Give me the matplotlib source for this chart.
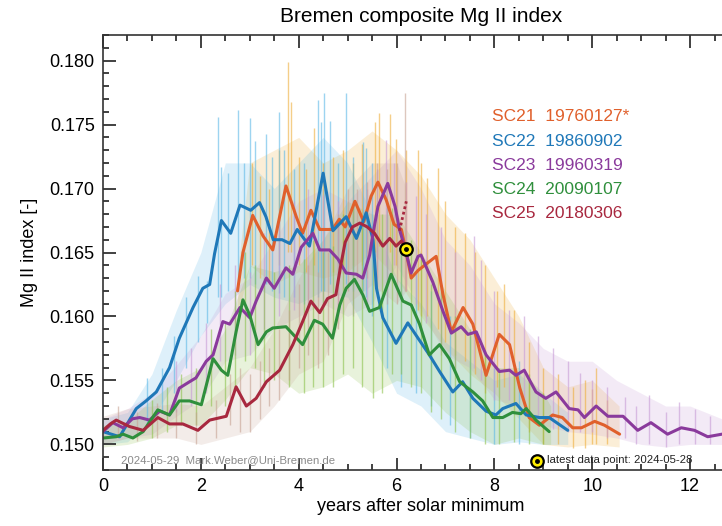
import numpy as np
import matplotlib.pyplot as plt
from matplotlib.ticker import MultipleLocator

plt.rcParams["font.family"] = ["Liberation Sans", "DejaVu Sans"]

# ---- smoothed index per solar cycle (years after minimum, Mg II index) ----
sc21_t = [2.75, 2.86, 3.06, 3.27, 3.47, 3.74, 3.95, 4.08, 4.25, 4.43, 4.69, 4.83, 4.95,
          5.15, 5.33, 5.48, 5.62, 5.79, 5.95, 6.1, 6.23, 6.3, 6.44, 6.64, 6.81, 6.95,
          7.12, 7.36, 7.56, 7.83, 8.1, 8.31, 8.52, 8.71, 8.92, 9.19, 9.39, 9.6, 9.78,
          10.05, 10.25, 10.56]
sc21_v = [0.1620, 0.1650, 0.1679, 0.1663, 0.1652, 0.1702, 0.1678, 0.1665, 0.1683, 0.1668,
          0.1668, 0.1676, 0.1670, 0.1690, 0.1674, 0.1694, 0.1705, 0.1691, 0.1672, 0.1668,
          0.1644, 0.1630, 0.1636, 0.1642, 0.1647, 0.1617, 0.1588, 0.1607, 0.1594, 0.1554,
          0.1586, 0.1578, 0.1544, 0.1521, 0.1515, 0.1523, 0.1521, 0.1513, 0.1513, 0.1518,
          0.1515, 0.1508]

sc22_t = [0.0, 0.34, 0.68, 0.88, 1.09, 1.36, 1.56, 1.84, 2.04, 2.18, 2.28, 2.42, 2.61,
          2.8, 3.02, 3.2, 3.33, 3.48, 3.66, 3.82, 3.97, 4.22, 4.5, 4.7, 4.97, 5.18, 5.38,
          5.52, 5.59, 5.72, 5.99, 6.23, 6.44, 6.67, 6.88, 7.15, 7.35, 7.56, 7.83, 8.03,
          8.17, 8.44, 8.65, 8.92, 9.12, 9.5]
sc22_v = [0.1510, 0.1506, 0.1528, 0.1534, 0.1541, 0.1560, 0.1583, 0.1607, 0.1622, 0.1625,
          0.1649, 0.1675, 0.1665, 0.1687, 0.1683, 0.1689, 0.1678, 0.1660, 0.1660, 0.1657,
          0.1668, 0.1655, 0.1712, 0.1667, 0.1678, 0.1661, 0.1681, 0.1660, 0.1622, 0.1599,
          0.1579, 0.1595, 0.1583, 0.1570, 0.1557, 0.1541, 0.1549, 0.1536, 0.1526, 0.1523,
          0.1528, 0.1532, 0.1523, 0.1521, 0.1521, 0.1511]

sc23_t = [0.0, 0.2, 0.41, 0.6, 0.75, 0.95, 1.16, 1.36, 1.56, 1.77, 1.9, 2.11, 2.25, 2.45,
          2.59, 2.8, 3.0, 3.13, 3.34, 3.5, 3.74, 3.88, 4.05, 4.29, 4.43, 4.63, 4.8, 4.97,
          5.18, 5.31, 5.45, 5.52, 5.62, 5.82, 5.97, 6.06, 6.16, 6.3, 6.44, 6.5, 6.74, 6.95,
          7.12, 7.32, 7.46, 7.63, 7.83, 8.1, 8.31, 8.44, 8.61, 8.85, 9.05, 9.26, 9.53,
          9.71, 9.84, 10.08, 10.32, 10.63, 10.93, 11.2, 11.54, 11.82, 12.09, 12.36, 12.65]
sc23_v = [0.1510, 0.1517, 0.1513, 0.1520, 0.1521, 0.1519, 0.1526, 0.1523, 0.1544, 0.1549,
          0.1552, 0.1565, 0.1570, 0.1596, 0.1594, 0.1607, 0.1599, 0.1612, 0.1630, 0.1622,
          0.1638, 0.1633, 0.1654, 0.1665, 0.1652, 0.1652, 0.1645, 0.1634, 0.1633, 0.1630,
          0.1648, 0.1665, 0.1686, 0.1704, 0.1686, 0.1668, 0.1655, 0.1634, 0.1647, 0.1648,
          0.1627, 0.1604, 0.1587, 0.1592, 0.1586, 0.1588, 0.1570, 0.1557, 0.1558, 0.1554,
          0.1558, 0.1541, 0.1536, 0.1541, 0.1528, 0.1527, 0.1521, 0.1530, 0.1522, 0.1522,
          0.1511, 0.1517, 0.1508, 0.1513, 0.1511, 0.1506, 0.1508]

sc24_t = [0.0, 0.27, 0.41, 0.61, 0.82, 1.12, 1.36, 1.56, 1.77, 2.01, 2.25, 2.42, 2.55,
          2.72, 2.86, 3.0, 3.17, 3.34, 3.47, 3.74, 4.08, 4.32, 4.49, 4.69, 4.84, 4.97,
          5.14, 5.31, 5.45, 5.65, 5.89, 6.13, 6.3, 6.47, 6.67, 6.88, 7.08, 7.29, 7.56,
          7.76, 7.97, 8.17, 8.37, 8.54, 8.65, 8.85, 9.12]
sc24_v = [0.1505, 0.1506, 0.1508, 0.1505, 0.1510, 0.1527, 0.1523, 0.1534, 0.1534, 0.1531,
          0.1567, 0.1558, 0.1554, 0.1588, 0.1613, 0.1601, 0.1578, 0.1588, 0.1591, 0.1592,
          0.1578, 0.1597, 0.1594, 0.1583, 0.1609, 0.1622, 0.1629, 0.1617, 0.1604, 0.1607,
          0.1633, 0.1612, 0.1609, 0.1594, 0.1570, 0.1578, 0.1567, 0.1549, 0.1541, 0.1534,
          0.1521, 0.1521, 0.1525, 0.1524, 0.1528, 0.1519, 0.1510]

sc25_t = [0.0, 0.15, 0.27, 0.54, 0.82, 1.12, 1.36, 1.63, 1.94, 2.18, 2.52, 2.72, 2.93,
          3.13, 3.34, 3.61, 3.88, 4.08, 4.25, 4.43, 4.59, 4.76, 4.86, 4.95, 5.1, 5.25,
          5.4, 5.55, 5.72, 5.86, 5.99, 6.1, 6.2]
sc25_v = [0.1511, 0.1516, 0.1519, 0.1514, 0.1511, 0.1521, 0.1516, 0.1516, 0.1511, 0.1519,
          0.1522, 0.1545, 0.1530, 0.1536, 0.1549, 0.1558, 0.1578, 0.1596, 0.1612, 0.1603,
          0.1614, 0.1617, 0.1640, 0.1658, 0.1670, 0.1673, 0.1670, 0.1665, 0.1655, 0.1661,
          0.1655, 0.1659, 0.1653]

# partial smoothing at the end of the current cycle
sc25_tail_t = [6.06, 6.2]
sc25_tail_v = [0.1667, 0.1690]
latest_t, latest_v = 6.2, 0.1653

# ---- daily data: spread of values (envelope) ----
sc21_env_t = [2.75, 3.0, 3.5, 4.0, 4.5, 5.0, 5.5, 6.0, 6.5, 7.0, 7.5, 8.0, 8.5, 9.0, 9.5, 10.0, 10.55]
sc21_env_lo = [0.1600, 0.1640, 0.1625, 0.1635, 0.1630, 0.1635, 0.1650, 0.1630, 0.1600, 0.1575,
               0.1555, 0.1540, 0.1520, 0.1500, 0.1498, 0.1500, 0.1498]
sc21_env_hi = [0.1635, 0.1720, 0.1730, 0.1740, 0.1720, 0.1730, 0.1745, 0.1730, 0.1710, 0.1680,
               0.1660, 0.1630, 0.1600, 0.1560, 0.1545, 0.1550, 0.1530]

sc22_env_t = [0, 0.5, 1, 1.5, 2, 2.5, 3, 3.5, 4, 4.5, 5, 5.5, 6, 6.5, 7, 7.5, 8, 8.5, 9, 9.5]
sc22_env_lo = [0.1500, 0.1502, 0.1520, 0.1550, 0.1585, 0.1610, 0.1625, 0.1615, 0.1610, 0.1620,
               0.1615, 0.1580, 0.1540, 0.1530, 0.1510, 0.1505, 0.1500, 0.1502, 0.1500, 0.1500]
sc22_env_hi = [0.1520, 0.1525, 0.1555, 0.1605, 0.1650, 0.1720, 0.1720, 0.1700, 0.1720, 0.1740,
               0.1720, 0.1680, 0.1630, 0.1610, 0.1580, 0.1565, 0.1550, 0.1555, 0.1540, 0.1525]

sc23_env_t = [0, 0.5, 1, 1.5, 2, 2.5, 3, 3.5, 4, 4.5, 5, 5.5, 6, 6.5, 7, 7.5, 8, 8.5, 9,
              9.5, 10, 10.5, 11, 11.5, 12, 12.65]
sc23_env_lo = [0.1500, 0.1505, 0.1508, 0.1522, 0.1535, 0.1565, 0.1570, 0.1590, 0.1600, 0.1610,
               0.1600, 0.1610, 0.1640, 0.1605, 0.1570, 0.1560, 0.1535, 0.1530, 0.1515, 0.1510,
               0.1508, 0.1505, 0.1500, 0.1498, 0.1500, 0.1500]
sc23_env_hi = [0.1520, 0.1528, 0.1540, 0.1562, 0.1585, 0.1618, 0.1630, 0.1660, 0.1690, 0.1700,
               0.1690, 0.1710, 0.1730, 0.1700, 0.1660, 0.1640, 0.1610, 0.1595, 0.1575, 0.1565,
               0.1565, 0.1550, 0.1540, 0.1530, 0.1530, 0.1520]

sc24_env_t = [0, 0.5, 1, 1.5, 2, 2.5, 3, 3.5, 4, 4.5, 5, 5.5, 6, 6.5, 7, 7.5, 8, 8.5, 9, 9.15]
sc24_env_lo = [0.1498, 0.1500, 0.1505, 0.1515, 0.1515, 0.1535, 0.1560, 0.1555, 0.1540, 0.1545,
               0.1555, 0.1540, 0.1550, 0.1545, 0.1525, 0.1510, 0.1500, 0.1505, 0.1500, 0.1500]
sc24_env_hi = [0.1515, 0.1518, 0.1535, 0.1550, 0.1560, 0.1590, 0.1640, 0.1635, 0.1640, 0.1660,
               0.1690, 0.1680, 0.1680, 0.1650, 0.1620, 0.1590, 0.1560, 0.1560, 0.1540, 0.1530]

sc25_env_t = [0, 0.5, 1, 1.5, 2, 2.5, 3, 3.5, 4, 4.5, 5, 5.5, 6, 6.2]
sc25_env_lo = [0.1500, 0.1505, 0.1505, 0.1505, 0.1500, 0.1505, 0.1510, 0.1530, 0.1555, 0.1565,
               0.1610, 0.1625, 0.1610, 0.1620]
sc25_env_hi = [0.1522, 0.1528, 0.1530, 0.1532, 0.1530, 0.1545, 0.1560, 0.1590, 0.1630, 0.1660,
               0.1700, 0.1720, 0.1720, 0.1700]

# ---- daily data: prominent spikes (time, low, high) ----
sc21_sp_t = [3.05, 3.2, 3.4, 3.6, 3.78, 3.84, 4.0, 4.15, 4.32, 4.5, 4.7, 4.9, 5.1, 5.3, 5.55,
             5.65, 5.86, 5.99, 6.2, 6.44, 6.5, 6.63, 6.85, 7.0, 7.2, 7.4, 7.6, 7.8, 8.05, 8.2,
             8.4, 8.7, 9.0, 9.3, 9.6, 9.85, 10.0, 10.08, 10.3]
sc21_sp_hi = [0.1720, 0.1710, 0.1700, 0.1730, 0.1799, 0.1768, 0.1725, 0.1715, 0.1747, 0.1720,
              0.1725, 0.1730, 0.1720, 0.1735, 0.1752, 0.1759, 0.1758, 0.1739, 0.1730, 0.1730,
              0.1720, 0.1708, 0.1716, 0.1690, 0.1670, 0.1665, 0.1650, 0.1640, 0.1620, 0.1625,
              0.1605, 0.1580, 0.1560, 0.1555, 0.1545, 0.1550, 0.1543, 0.1560, 0.1535]
sc21_sp_lo = [0.1640, 0.1630, 0.1625, 0.1640, 0.1650, 0.1650, 0.1640, 0.1635, 0.1640, 0.1630,
              0.1635, 0.1640, 0.1640, 0.1640, 0.1650, 0.1655, 0.1650, 0.1640, 0.1620, 0.1605,
              0.1600, 0.1600, 0.1590, 0.1580, 0.1570, 0.1565, 0.1555, 0.1540, 0.1545, 0.1545,
              0.1530, 0.1510, 0.1500, 0.1500, 0.1497, 0.1497, 0.1500, 0.1500, 0.1500]

sc22_sp_t = [0.9, 1.2, 1.45, 1.7, 1.95, 2.12, 2.35, 2.42, 2.55, 2.76, 2.88, 3.0, 3.1, 3.33,
             3.45, 3.6, 3.7, 3.9, 4.1, 4.39, 4.45, 4.52, 4.63, 4.8, 4.97, 5.1, 5.31, 5.37,
             5.5, 5.8, 6.1, 6.4, 6.7, 7.1, 7.5, 8.0, 8.5]
sc22_sp_hi = [0.1552, 0.1560, 0.1585, 0.1615, 0.1632, 0.1628, 0.1756, 0.1717, 0.1712, 0.1761,
              0.1720, 0.1755, 0.1737, 0.1743, 0.1725, 0.1760, 0.1730, 0.1715, 0.1720, 0.1769,
              0.1752, 0.1775, 0.1753, 0.1720, 0.1775, 0.1725, 0.1736, 0.1732, 0.1720, 0.1690,
              0.1655, 0.1635, 0.1620, 0.1600, 0.1585, 0.1560, 0.1565]
sc22_sp_lo = [0.1515, 0.1525, 0.1540, 0.1560, 0.1580, 0.1595, 0.1615, 0.1615, 0.1620, 0.1625,
              0.1630, 0.1630, 0.1625, 0.1625, 0.1620, 0.1618, 0.1615, 0.1615, 0.1610, 0.1615,
              0.1620, 0.1620, 0.1625, 0.1625, 0.1625, 0.1620, 0.1620, 0.1615, 0.1600, 0.1560,
              0.1545, 0.1540, 0.1530, 0.1515, 0.1505, 0.1500, 0.1500]

sc23_sp_t = [1.5, 1.8, 2.1, 2.4, 2.7, 3.0, 3.3, 3.6, 3.9, 4.2, 4.5, 4.8, 5.1, 5.4, 5.6, 5.79,
             5.95, 6.2, 6.4, 6.6, 6.9, 7.2, 7.59, 7.73, 8.0, 8.3, 8.6, 8.9, 9.2, 9.5, 9.74,
             10.0, 10.3, 10.66, 10.9, 11.17, 11.5, 11.77, 12.1, 12.4]
sc23_sp_hi = [0.1565, 0.1575, 0.1595, 0.1625, 0.1640, 0.1635, 0.1665, 0.1680, 0.1690, 0.1700,
              0.1695, 0.1690, 0.1690, 0.1700, 0.1715, 0.1738, 0.1720, 0.1705, 0.1694, 0.1680,
              0.1670, 0.1650, 0.1663, 0.1644, 0.1620, 0.1605, 0.1600, 0.1585, 0.1575, 0.1565,
              0.1556, 0.1550, 0.1545, 0.1537, 0.1530, 0.1539, 0.1525, 0.1533, 0.1528, 0.1522]
sc23_sp_lo = [0.1525, 0.1530, 0.1540, 0.1565, 0.1570, 0.1570, 0.1590, 0.1600, 0.1605, 0.1610,
              0.1610, 0.1600, 0.1600, 0.1605, 0.1630, 0.1640, 0.1640, 0.1620, 0.1610, 0.1595,
              0.1570, 0.1560, 0.1560, 0.1550, 0.1535, 0.1535, 0.1530, 0.1520, 0.1512, 0.1510,
              0.1510, 0.1510, 0.1505, 0.1505, 0.1500, 0.1500, 0.1498, 0.1500, 0.1500, 0.1500]

sc24_sp_t = [1.0, 1.3, 1.6, 1.9, 2.2, 2.5, 2.7, 2.9, 3.1, 3.3, 3.5, 3.8, 4.1, 4.3, 4.5, 4.7,
             4.9, 5.1, 5.3, 5.52, 5.7, 5.9, 6.1, 6.3, 6.5, 6.7, 6.9, 7.2, 7.5, 7.8, 8.1, 8.4,
             8.7, 9.0]
sc24_sp_hi = [0.1535, 0.1545, 0.1555, 0.1560, 0.1590, 0.1595, 0.1620, 0.1650, 0.1640, 0.1630,
              0.1635, 0.1640, 0.1645, 0.1660, 0.1650, 0.1655, 0.1680, 0.1690, 0.1670, 0.1660,
              0.1680, 0.1685, 0.1665, 0.1660, 0.1645, 0.1625, 0.1620, 0.1600, 0.1590, 0.1570,
              0.1560, 0.1560, 0.1555, 0.1540]
sc24_sp_lo = [0.1505, 0.1510, 0.1515, 0.1515, 0.1530, 0.1530, 0.1545, 0.1565, 0.1560, 0.1545,
              0.1550, 0.1545, 0.1540, 0.1545, 0.1545, 0.1545, 0.1555, 0.1560, 0.1545, 0.1536,
              0.1540, 0.1555, 0.1555, 0.1545, 0.1540, 0.1525, 0.1520, 0.1510, 0.1505, 0.1500,
              0.1500, 0.1502, 0.1500, 0.1500]

sc25_sp_t = [0.3, 0.7, 1.1, 1.5, 1.9, 2.3, 2.6, 2.8, 3.0, 3.2, 3.4, 3.6, 3.8, 4.0, 4.2, 4.4,
             4.6, 4.8, 5.0, 5.2, 5.4, 5.6, 5.8, 6.0, 6.18]
sc25_sp_hi = [0.1530, 0.1525, 0.1532, 0.1528, 0.1525, 0.1535, 0.1555, 0.1560, 0.1555, 0.1565,
              0.1575, 0.1590, 0.1605, 0.1625, 0.1640, 0.1635, 0.1650, 0.1680, 0.1700, 0.1700,
              0.1705, 0.1720, 0.1715, 0.1720, 0.1775]
sc25_sp_lo = [0.1505, 0.1503, 0.1505, 0.1505, 0.1500, 0.1505, 0.1515, 0.1510, 0.1510, 0.1520,
              0.1530, 0.1535, 0.1550, 0.1560, 0.1570, 0.1560, 0.1570, 0.1590, 0.1620, 0.1630,
              0.1630, 0.1620, 0.1610, 0.1610, 0.1620]

cycle_names = ["SC21", "SC22", "SC23", "SC24", "SC25"]
cycle_minima = ["19760127*", "19860902", "19960319", "20090107", "20180306"]
line_colors = ["#e0602c", "#1f78b8", "#8a3a9c", "#2f8f3c", "#a8283f"]
daily_colors = ["#eeae3a", "#5cb8e6", "#c79ad6", "#8cc24c", "#c7a293"]

smooth = [(sc21_t, sc21_v), (sc22_t, sc22_v), (sc23_t, sc23_v), (sc24_t, sc24_v), (sc25_t, sc25_v)]
envelopes = [(sc21_env_t, sc21_env_lo, sc21_env_hi), (sc22_env_t, sc22_env_lo, sc22_env_hi),
             (sc23_env_t, sc23_env_lo, sc23_env_hi), (sc24_env_t, sc24_env_lo, sc24_env_hi),
             (sc25_env_t, sc25_env_lo, sc25_env_hi)]
spikes = [(sc21_sp_t, sc21_sp_lo, sc21_sp_hi), (sc22_sp_t, sc22_sp_lo, sc22_sp_hi),
          (sc23_sp_t, sc23_sp_lo, sc23_sp_hi), (sc24_sp_t, sc24_sp_lo, sc24_sp_hi),
          (sc25_sp_t, sc25_sp_lo, sc25_sp_hi)]

fig = plt.figure(figsize=(7.22, 5.26), dpi=100)
# axes run slightly past the right edge of the image
ax = fig.add_axes([103 / 722, 56 / 526, 636 / 722, 435 / 526])

for (et, elo, ehi), (st, slo, shi), col in zip(envelopes, spikes, daily_colors):
    ax.fill_between(et, elo, ehi, color=col, alpha=0.2, lw=0)
    ax.vlines(st, slo, shi, color=col, lw=1.0, alpha=0.6)

for (t, v), col in zip(smooth, line_colors):
    ax.plot(t, v, color=col, lw=2.2, solid_capstyle="round", solid_joinstyle="round")

ax.plot(sc25_tail_t, sc25_tail_v, color=line_colors[4], lw=2.0, ls=(0, (1, 1)))
ax.plot(latest_t, latest_v, "o", ms=9, mfc="#ffee00", mec="black", mew=1.6)
ax.plot(latest_t, latest_v, "o", ms=2.5, color="black")

for i, (name, date, col) in enumerate(zip(cycle_names, cycle_minima, line_colors)):
    ax.text(0.612, 0.8115 - i * 0.0552, f"{name}  {date}", color=col, fontsize=12.5,
            transform=ax.transAxes, va="center")

ax.text(0.028, 0.022, "2024-05-29  Mark.Weber@Uni-Bremen.de", color="#8a8a8a",
        fontsize=8.2, transform=ax.transAxes, va="center")
ax.plot(0.682, 0.020, "o", ms=9, mfc="#ffee00", mec="black", mew=1.6, transform=ax.transAxes)
ax.plot(0.682, 0.020, "o", ms=2.5, color="black", transform=ax.transAxes)
ax.text(0.698, 0.022, "latest data point: 2024-05-28", color="#222222",
        fontsize=8.2, transform=ax.transAxes, va="center")

ax.set_xlim(0, 13)
ax.set_ylim(0.148, 0.182)
ax.xaxis.set_major_locator(MultipleLocator(2))
ax.xaxis.set_minor_locator(MultipleLocator(0.5))
ax.yaxis.set_major_locator(MultipleLocator(0.005))
ax.yaxis.set_minor_locator(MultipleLocator(0.001))
ax.yaxis.set_major_formatter(plt.FormatStrFormatter("%.3f"))
ax.tick_params(which="both", direction="in", top=True, right=False, colors="#333333",
               width=1.3, labelsize=13, labelcolor="black")
ax.tick_params(which="major", length=9, pad=6)
ax.tick_params(which="minor", length=4.5)
for side in ["left", "bottom", "top"]:
    ax.spines[side].set_color("#333333")
    ax.spines[side].set_linewidth(1.2)
ax.spines["right"].set_visible(False)

ax.set_xlabel("years after solar minimum", fontsize=13, labelpad=2)
ax.set_ylabel("Mg II index [-]", fontsize=13, labelpad=8)
fig.text(421 / 722, 1 - 17 / 526, "Bremen composite Mg II index", fontsize=15,
         ha="center", va="center")

fig.savefig("out.png", dpi=100)
